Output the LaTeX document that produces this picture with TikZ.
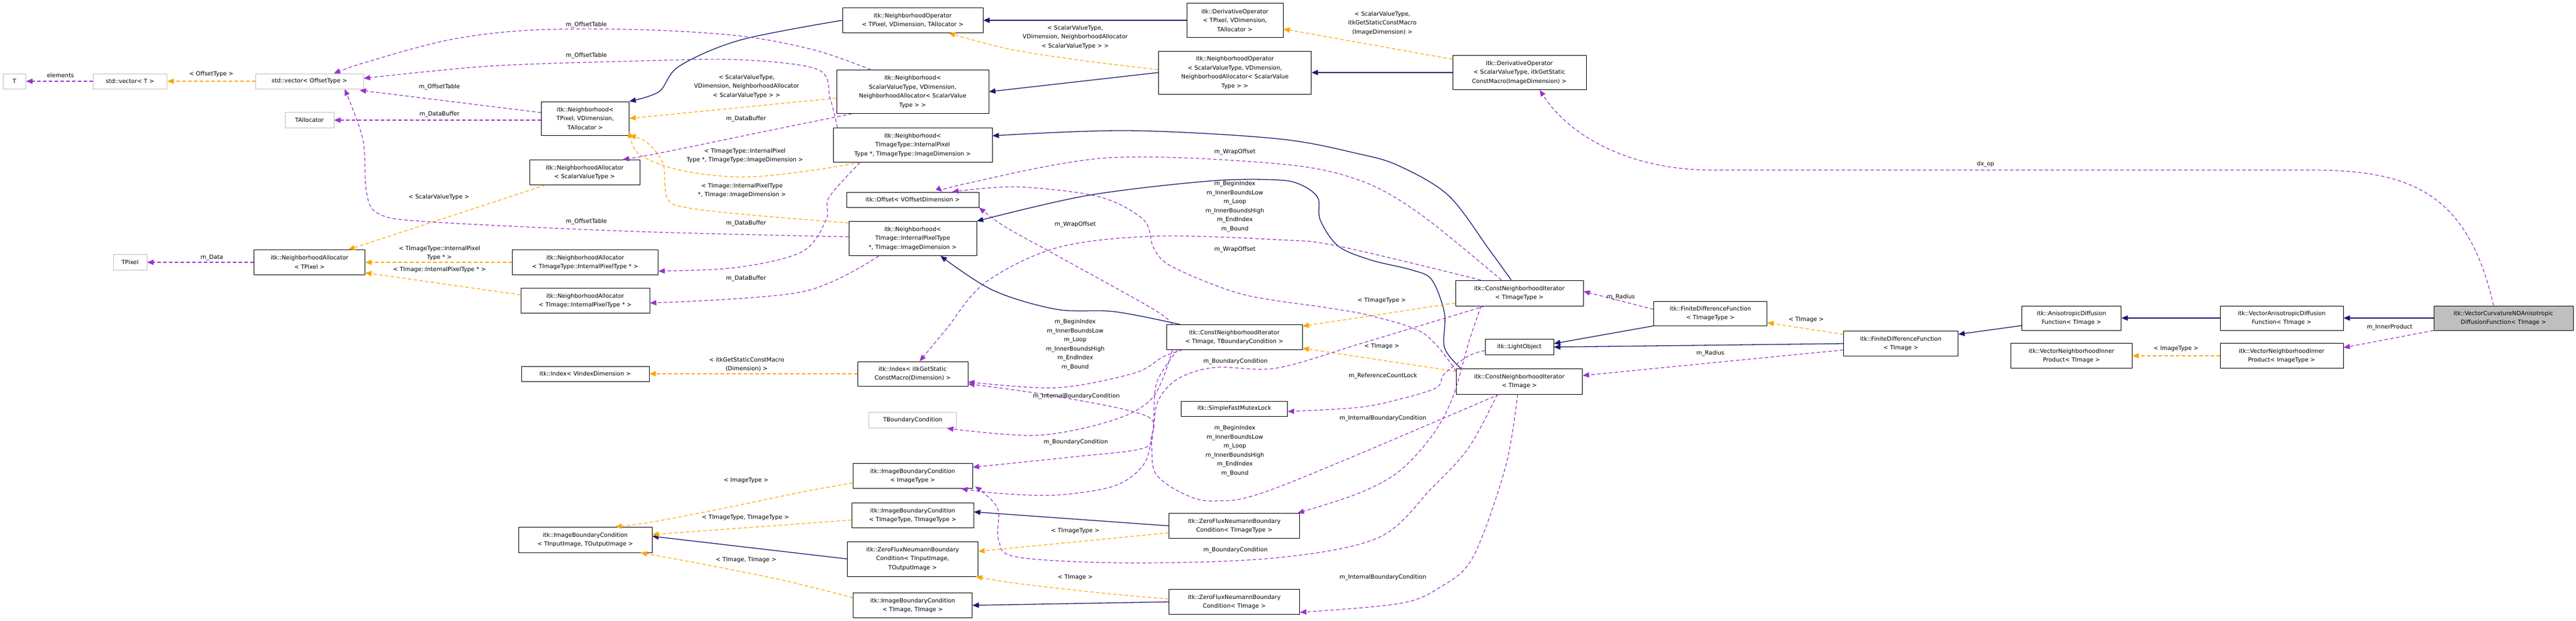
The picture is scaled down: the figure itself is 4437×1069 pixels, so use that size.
\documentclass[tikz,border=0pt]{standalone}
\usepackage{fontspec}
\setmainfont{DejaVu Sans}
\usetikzlibrary{arrows.meta,calc}
\definecolor{inhc}{HTML}{191970}
\definecolor{tplc}{HTML}{FFA500}
\definecolor{usec}{HTML}{9A32CD}
\definecolor{grayb}{HTML}{BFBFBF}
\begin{document}
\begin{tikzpicture}[x=1pt,y=-1pt,
  box/.style={draw=black,line width=1pt,fill=white,align=center,inner sep=1pt,font=\fontsize{10}{15.5}\selectfont},
  gbox/.style={box,draw=grayb},
  lbl/.style={inner sep=0pt,align=center,font=\fontsize{10}{15.5}\selectfont},
  inh/.style={draw=inhc,line width=1.3pt,-{Triangle[length=11pt,width=9pt]}},
  tpl/.style={draw=tplc,line width=1.2pt,dash pattern=on 6pt off 4pt,-{Triangle[length=11pt,width=9pt]}},
  use/.style={draw=usec,line width=1.2pt,dash pattern=on 6pt off 4pt,-{Triangle[length=11pt,width=9pt]}},
  sm/.style={smooth,tension=0.55}]
\useasboundingbox[fill=white] (0,0) rectangle (4437,1069);
% ---------- nodes ----------
\node[gbox,minimum width=39pt,minimum height=26pt] (T) at (25,140) {T};
\node[gbox,minimum width=127pt,minimum height=26pt] (vecT) at (224,140) {std::vector< T >};
\node[gbox,minimum width=186pt,minimum height=26pt] (vecO) at (533,140) {std::vector< OffsetType >};
\node[gbox,minimum width=84pt,minimum height=27pt] (TAlloc) at (533,207) {TAllocator};
\node[box,minimum width=151pt,minimum height=58pt] (NP) at (1008,204) {itk::Neighborhood<\\ TPixel, VDimension,\\ TAllocator >};
\node[box,minimum width=190pt,minimum height=43pt] (NASV) at (1007,297) {itk::NeighborhoodAllocator\\< ScalarValueType >};
\node[gbox,minimum width=58pt,minimum height=27pt] (TPixel) at (224,452) {TPixel};
\node[box,minimum width=191pt,minimum height=43pt] (NAP) at (533,452) {itk::NeighborhoodAllocator\\< TPixel >};
\node[box,minimum width=251pt,minimum height=43pt] (NATT) at (1008,452) {itk::NeighborhoodAllocator\\< TImageType::InternalPixelType * >};
\node[box,minimum width=222pt,minimum height=43pt] (NATI) at (1008,518) {itk::NeighborhoodAllocator\\< TImage::InternalPixelType * >};
\node[box,minimum width=220pt,minimum height=26pt] (IdxV) at (1008,644) {itk::Index< VIndexDimension >};
\node[box,minimum width=230pt,minimum height=44pt] (IBCio) at (1008,930) {itk::ImageBoundaryCondition\\< TInputImage, TOutputImage >};
\node[box,minimum width=242pt,minimum height=43pt] (NOpP) at (1572,35) {itk::NeighborhoodOperator\\< TPixel, VDimension, TAllocator >};
\node[box,minimum width=166pt,minimum height=59pt] (DOpP) at (2127,35) {itk::DerivativeOperator\\< TPixel, VDimension,\\ TAllocator >};
\node[box,minimum width=262pt,minimum height=75pt] (NSV) at (1572,158) {itk::Neighborhood<\\ ScalarValueType, VDimension,\\ NeighborhoodAllocator< ScalarValue\\ Type > >};
\node[box,minimum width=263pt,minimum height=74pt] (NOpSV) at (2127,125) {itk::NeighborhoodOperator\\< ScalarValueType, VDimension,\\ NeighborhoodAllocator< ScalarValue\\ Type > >};
\node[box,minimum width=230pt,minimum height=59pt] (DOpSV) at (2617,125) {itk::DerivativeOperator\\< ScalarValueType, itkGetStatic\\ConstMacro(ImageDimension) >};
\node[box,minimum width=274pt,minimum height=59pt] (NTT) at (1572,250) {itk::Neighborhood<\\ TImageType::InternalPixel\\Type *, TImageType::ImageDimension >};
\node[box,minimum width=228pt,minimum height=26pt] (Off) at (1572,344) {itk::Offset< VOffsetDimension >};
\node[box,minimum width=220pt,minimum height=59pt] (NTI) at (1572,411) {itk::Neighborhood<\\ TImage::InternalPixelType\\ *, TImage::ImageDimension >};
\node[box,minimum width=190pt,minimum height=42pt] (IdxS) at (1572,644) {itk::Index< itkGetStatic\\ConstMacro(Dimension) >};
\node[gbox,minimum width=151pt,minimum height=27pt] (TBC) at (1572,724) {TBoundaryCondition};
\node[box,minimum width=206pt,minimum height=43pt] (IBCit) at (1572,820) {itk::ImageBoundaryCondition\\< ImageType >};
\node[box,minimum width=210pt,minimum height=43pt] (IBCtt) at (1572,888) {itk::ImageBoundaryCondition\\< TImageType, TImageType >};
\node[box,minimum width=225pt,minimum height=60pt] (ZFio) at (1572,963) {itk::ZeroFluxNeumannBoundary\\Condition< TInputImage,\\ TOutputImage >};
\node[box,minimum width=205pt,minimum height=43pt] (IBCii) at (1572,1043) {itk::ImageBoundaryCondition\\< TImage, TImage >};
\node[box,minimum width=234pt,minimum height=43pt] (CNIb) at (2126,581) {itk::ConstNeighborhoodIterator\\< TImage, TBoundaryCondition >};
\node[box,minimum width=183pt,minimum height=26pt] (SFML) at (2126,704) {itk::SimpleFastMutexLock};
\node[box,minimum width=225pt,minimum height=43pt] (ZFtt) at (2126,906) {itk::ZeroFluxNeumannBoundary\\Condition< TImageType >};
\node[box,minimum width=225pt,minimum height=43pt] (ZFi) at (2126,1037) {itk::ZeroFluxNeumannBoundary\\Condition< TImage >};
\node[box,minimum width=220pt,minimum height=44pt] (CNItt) at (2617,505) {itk::ConstNeighborhoodIterator\\< TImageType >};
\node[box,minimum width=118pt,minimum height=27pt] (LO) at (2617,598) {itk::LightObject};
\node[box,minimum width=217pt,minimum height=44pt] (CNIi) at (2617,657) {itk::ConstNeighborhoodIterator\\< TImage >};
\node[box,minimum width=195pt,minimum height=42pt] (FDFtt) at (2946,540) {itk::FiniteDifferenceFunction\\< TImageType >};
\node[box,minimum width=197pt,minimum height=43pt] (FDFi) at (3274,592) {itk::FiniteDifferenceFunction\\< TImage >};
\node[box,minimum width=171pt,minimum height=42pt] (ADF) at (3568,548) {itk::AnisotropicDiffusion\\Function< TImage >};
\node[box,minimum width=209pt,minimum height=43pt] (VNIPi) at (3568,613) {itk::VectorNeighborhoodInner\\Product< TImage >};
\node[box,minimum width=212pt,minimum height=42pt] (VADF) at (3930,548) {itk::VectorAnisotropicDiffusion\\Function< TImage >};
\node[box,minimum width=212pt,minimum height=43pt] (VNIPit) at (3930,613) {itk::VectorNeighborhoodInner\\Product< ImageType >};
\node[box,fill=grayb,minimum width=240pt,minimum height=42pt] (VC) at (4312,548) {itk::VectorCurvatureNDAnisotropic\\DiffusionFunction< TImage >};
% ---------- inheritance ----------
\draw[inh] plot[sm] coordinates {(NOpP.west) (1275,69) (1170,114) (1135,158) (NP.north east)};
\draw[inh] (DOpP.west) -- (NOpP.east);
\draw[inh] (NOpSV.west) -- (NSV.east);
\draw[inh] (DOpSV.west) -- (NOpSV.east);
\draw[inh] plot[sm] coordinates {($(CNItt.north)+(-14,0)$) (2565,430) (2495,337) (2410,286) (2340,265) (2200,239) (1942,225) ($(NTT.east)+(0,-16)$)};
\draw[inh] plot[sm] coordinates {($(CNIi.north west)+(8,0)$) (2488,599) (2488,540) (2466,482) (2431,465) (2361,448) (2305,424) (2274,379) (2270,341) (2242,319) (2200,310) (2082,312) (1872,337) (NTI.north east)};
\draw[inh] plot[sm] coordinates {($(CNIb.north west)+(24,0)$) (1920,537) (1820,533) (1710,500) ($(NTI.south)+(48,0)$)};
\draw[inh] (FDFtt.south west) -- ($(LO.east)+(0,-6)$);
\draw[inh] (FDFi.west) -- (LO.east);
\draw[inh] ($(ADF.west)+(0,13)$) -- ($(FDFi.east)+(0,-16)$);
\draw[inh] (VADF.west) -- (ADF.east);
\draw[inh] (VC.west) -- (VADF.east);
\draw[inh] (ZFtt.west) -- ($(IBCtt.east)+(0,-6)$);
\draw[inh] (ZFio.west) -- ($(IBCio.east)+(0,-6)$);
\draw[inh] (ZFi.west) -- (IBCii.east);
% ---------- template instances ----------
\draw[tpl] (vecO.west) -- (vecT.east);
\node[lbl] (l1) at (364,128) {< OffsetType >};
\draw[tpl] ($(NSV.west)+(0,11)$) -- (NP.east);
\node[lbl] (l2) at (1286,149) {< ScalarValueType,\\VDimension, NeighborhoodAllocator\\< ScalarValueType > >};
\draw[tpl] plot[sm] coordinates {($(NTT.south west)+(47,0)$) (1381,296) (1275,305) (1170,293) (1100,265) ($(NP.east)+(0,22)$)};
\node[lbl] (l3) at (1283,268) {< TImageType::InternalPixel\\Type *, TImageType::ImageDimension >};
\draw[tpl] plot[sm] coordinates {($(NTI.west)+(0,-27)$) (1310,372) (1184,358) (1149,341) (1142,282) (1114,245) (NP.south east)};
\node[lbl] (l4) at (1278,328) {< TImage::InternalPixelType\\*, TImage::ImageDimension >};
\draw[tpl] plot[sm] coordinates {($(NOpSV.west)+(0,-5)$) (1870,105) (1740,85) ($(NOpP.south)+(62,0)$)};
\node[lbl] (l5) at (1852,64) {< ScalarValueType,\\VDimension, NeighborhoodAllocator\\< ScalarValueType > >};
\draw[tpl] ($(DOpSV.north west)+(0,7)$) -- ($(DOpP.east)+(0,15)$);
\node[lbl] (l6) at (2381,40) {< ScalarValueType,\\itkGetStaticConstMacro\\(ImageDimension) >};
\draw[tpl] ($(NASV.south west)+(28,0)$) -- ($(NAP.north east)+(-29,0)$);
\node[lbl] (l7) at (756,340) {< ScalarValueType >};
\draw[tpl] (NATT.west) -- (NAP.east);
\node[lbl] (l8) at (757,436) {< TImageType::InternalPixel\\Type * >};
\draw[tpl] ($(NATI.west)+(0,-10)$) -- ($(NAP.south east)+(0,-4)$);
\node[lbl] (l9) at (757,465) {< TImage::InternalPixelType * >};
\draw[tpl] (IdxS.west) -- (IdxV.east);
\node[lbl] (l10) at (1286,628) {< itkGetStaticConstMacro\\(Dimension) >};
\draw[tpl] plot[sm] coordinates {($(IBCit.west)+(0,12)$) (1380,848) (1250,875) (1120,900) ($(IBCio.north)+(52,0)$)};
\node[lbl] (l11) at (1285,828) {< ImageType >};
\draw[tpl] ($(IBCtt.west)+(0,8)$) -- ($(IBCio.east)+(0,-9)$);
\node[lbl] (l12) at (1284,892) {< TImageType, TImageType >};
\draw[tpl] plot[sm] coordinates {($(IBCii.west)+(0,-13)$) (1350,1000) (1200,970) ($(IBCio.south east)+(-20,0)$)};
\node[lbl] (l13) at (1285,965) {< TImage, TImage >};
\draw[tpl] ($(ZFtt.west)+(0,12)$) -- ($(ZFio.east)+(0,-13)$);
\node[lbl] (l14) at (1852,915) {< TImageType >};
\draw[tpl] plot[sm] coordinates {($(ZFi.west)+(0,-5)$) (1900,1022) (1750,1005) ($(ZFio.south east)+(-4,0)$)};
\node[lbl] (l15) at (1852,995) {< TImage >};
\draw[tpl] ($(CNItt.west)+(0,17)$) -- ($(CNIb.east)+(0,-19)$);
\node[lbl] (l16) at (2380,518) {< TImageType >};
\draw[tpl] ($(CNIi.west)+(0,-17)$) -- ($(CNIb.east)+(0,19)$);
\node[lbl] (l17) at (2380,597) {< TImage >};
\draw[tpl] ($(FDFi.west)+(0,-16)$) -- ($(FDFtt.east)+(0,16)$);
\node[lbl] (l18) at (3111,551) {< TImage >};
\draw[tpl] (VNIPit.west) -- (VNIPi.east);
\node[lbl] (l19) at (3748,601) {< ImageType >};
% ---------- usage ----------
\draw[use] (vecT.west) -- (T.east);
\node[lbl] (u1) at (104,130) {elements};
\draw[use] ($(NP.west)+(0,-10)$) -- ($(vecO.south east)+(-7,2)$);
\node[lbl] (u2) at (757,150) {m\_OffsetTable};
\draw[use] ($(NP.west)+(0,3)$) -- (TAlloc.east);
\node[lbl] (u3) at (757,197) {m\_DataBuffer};
\draw[use] plot[sm] coordinates {($(NSV.north)+(-72,0)$) (1402,86) (1275,62) (1100,51) (912,52) (772,69) (631,107) ($(vecO.north)+(42,0)$)};
\node[lbl] (u4) at (1010,43) {m\_OffsetTable};
\draw[use] plot[sm] coordinates {($(NTT.north west)+(8,0)$) (1430,170) (1409,120) (1275,103) (1100,105) (842,114) ($(vecO.east)+(0,-5)$)};
\node[lbl] (u5) at (1010,96) {m\_OffsetTable};
\draw[use] plot[sm] coordinates {($(NTI.west)+(0,-3)$) (1100,399) (737,382) (652,368) (631,330) (625,240) ($(vecO.south east)+(-33,0)$)};
\node[lbl] (u6) at (1010,382) {m\_OffsetTable};
\draw[use] plot[sm] coordinates {($(NSV.south west)+(27,0)$) (1300,230) (1140,263) ($(NASV.north east)+(-30,0)$)};
\node[lbl] (u7) at (1285,205) {m\_DataBuffer};
\draw[use] plot[sm] coordinates {($(NTT.south west)+(47,0)$) (1428,340) (1423,379) (1381,434) (1268,461) ($(NATT.east)+(0,15)$)};
\node[lbl] (u8) at (1285,385) {m\_DataBuffer};
\draw[use] plot[sm] coordinates {($(NTI.south west)+(52,0)$) (1381,503) ($(NATI.east)+(0,4)$)};
\node[lbl] (u9) at (1285,480) {m\_DataBuffer};
\draw[use] (NAP.west) -- (TPixel.east);
\node[lbl] (u10) at (365,444) {m\_Data};
\draw[use] plot[sm] coordinates {($(CNItt.north)+(-31,0)$) (2445,368) (2340,310) (2200,282) (1907,272) (1661,317) ($(Off.north)+(51,0)$)};
\node[lbl] (u11) at (2127,262) {m\_WrapOffset};
\draw[use] plot[sm] coordinates {($(CNIb.north west)+(10,0)$) (1987,533) (1820,440) (1730,390) (Off.south east)};
\node[lbl] (u12) at (1852,387) {m\_WrapOffset};
\draw[use] plot[sm] coordinates {($(CNIi.north west)+(0,5)$) (2453,575) (2361,544) (2284,530) (2140,507) (2020,460) (1987,427) (1970,379) (1893,339) (1752,322) ($(Off.north)+(68,0)$)};
\node[lbl] (u13) at (2127,430) {m\_WrapOffset};
\draw[use] plot[sm] coordinates {($(CNItt.north west)+(44,0)$) (2305,424) (2200,413) (1987,407) (1820,427) (1697,487) (1630,567) ($(IdxS.north)+(12,0)$)};
\node[lbl] (u14) at (2127,356) {m\_BeginIndex\\m\_InnerBoundsLow\\m\_Loop\\m\_InnerBoundsHigh\\m\_EndIndex\\m\_Bound};
\draw[use] plot[sm] coordinates {($(CNIb.south west)+(28,0)$) (2003,615) (1953,643) (1820,668) ($(IdxS.east)+(0,14)$)};
\node[lbl] (u15) at (1852,594) {m\_BeginIndex\\m\_InnerBoundsLow\\m\_Loop\\m\_InnerBoundsHigh\\m\_EndIndex\\m\_Bound};
\draw[use] plot[sm] coordinates {($(CNIi.south west)+(74,0)$) (2200,840) (2093,863) (2037,850) (1990,815) (1983,760) (1975,717) (1820,683) ($(IdxS.south east)+(0,-4)$)};
\node[lbl] (u16) at (2127,777) {m\_BeginIndex\\m\_InnerBoundsLow\\m\_Loop\\m\_InnerBoundsHigh\\m\_EndIndex\\m\_Bound};
\draw[use] plot[sm] coordinates {($(CNIb.south west)+(11,0)$) (1987,683) (1920,723) (1787,750) ($(TBC.south east)+(-17,0)$)};
\node[lbl] (u17) at (1854,683) {m\_InternalBoundaryCondition};
\draw[use] plot[sm] coordinates {($(CNIb.south west)+(20,0)$) (1992,660) (1986,740) (1970,772) (1850,787) ($(IBCit.east)+(0,-15)$)};
\node[lbl] (u18) at (1853,762) {m\_BoundaryCondition};
\draw[use] plot[sm] coordinates {($(CNItt.south west)+(51,0)$) (2350,590) (2200,634) (2093,633) (2030,652) (1995,690) (1985,747) (1970,800) (1920,837) (1820,853) (1720,850) ($(IBCit.south east)+(-20,0)$)};
\node[lbl] (u19) at (2128,623) {m\_BoundaryCondition};
\draw[use] plot[sm] coordinates {($(CNIi.south)+(-38,0)$) (2530,771) (2467,840) (2375,926) (2200,961) (1953,970) (1753,960) (1720,930) (1718,875) ($(IBCit.south east)+(4,-4)$)};
\node[lbl] (u20) at (2128,948) {m\_BoundaryCondition};
\draw[use] plot[sm] coordinates {($(CNItt.south)+(-66,0)$) (2530,589) (2502,685) (2467,750) (2410,812) (2340,850) ($(ZFtt.north east)+(-4,0)$)};
\node[lbl] (u21) at (2382,721) {m\_InternalBoundaryCondition};
\draw[use] plot[sm] coordinates {($(CNIi.south)+(-3,0)$) (2593,805) (2537,960) (2480,1012) (2410,1040) ($(ZFi.east)+(0,18)$)};
\node[lbl] (u22) at (2382,995) {m\_InternalBoundaryCondition};
\draw[use] plot[sm] coordinates {($(LO.west)+(0,6)$) (2530,613) (2488,644) (2474,668) (2410,688) (2340,702) ($(SFML.east)+(0,5)$)};
\node[lbl] (u23) at (2382,648) {m\_ReferenceCountLock};
\draw[use] ($(FDFtt.west)+(0,-7)$) -- ($(CNItt.east)+(0,-3)$);
\node[lbl] (u24) at (2792,512) {m\_Radius};
\draw[use] ($(FDFi.west)+(0,11)$) -- ($(CNIi.east)+(0,-10)$);
\node[lbl] (u25) at (2946,609) {m\_Radius};
\draw[use] (VC.south west) -- ($(VNIPit.north east)+(0,8)$);
\node[lbl] (u26) at (4116,564) {m\_InnerProduct};
\draw[use] ($(VC.north)+(-17,0)$) .. controls (4250,330) and (4150,293) .. (3980,293) -- (2950,293) .. controls (2800,293) and (2700,230) .. ($(DOpSV.south)+(35,0)$);
\node[lbl] (u27) at (3420,283) {dx\_op};
\end{tikzpicture}
\end{document}
